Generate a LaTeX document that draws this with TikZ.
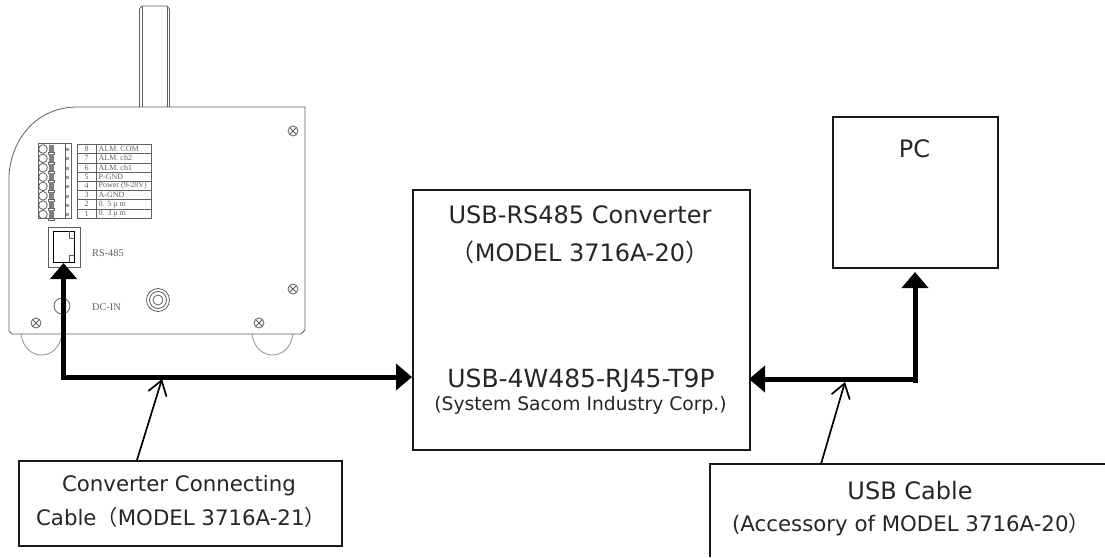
\documentclass[tikz,border=0pt]{standalone}
\usepackage{fontspec}
\setmainfont{DejaVu Sans}
\newfontfamily\cjk{Noto Sans CJK JP}
\newfontfamily\drawfont{Liberation Serif}
\newcommand{\fwl}{{\cjk （}}
\newcommand{\fwr}{{\cjk ）}}
\usetikzlibrary{arrows.meta}
\definecolor{dev}{HTML}{606060}
\tikzset{
 boxed/.style={draw=black!90,line width=1.6pt,inner sep=0pt,anchor=north west,align=center},
 thick arrow/.style={line width=5pt,-{Triangle[length=16pt,width=26pt]}},
 thin arrow/.style={line width=1.7pt,black,-{Straight Barb[length=14pt,width=19pt,line width=1.7pt]}},
 devline/.style={draw=dev,line width=.8pt},
 lbl/.style={text=black!85,font=\fontsize{24}{28}\selectfont,inner sep=0pt},
 mid/.style={text=black!85,font=\fontsize{21.3}{25}\selectfont,inner sep=0pt},
 tiny/.style={text=dev,font=\drawfont\fontsize{10.3}{11}\selectfont,inner sep=0pt,anchor=west},
 tabt/.style={text=dev,font=\drawfont\fontsize{8}{8}\selectfont,inner sep=0pt,anchor=west},
 screw/.pic={\draw[devline] (0,0) circle (5); \draw[devline] (-3.3,-3.3)--(3.3,3.3) (-3.3,3.3)--(3.3,-3.3);}
}
\begin{document}
\begin{tikzpicture}[x=1pt,y=-1pt]
\useasboundingbox[fill=white] (0,0) rectangle (1105,557);
% antenna
\draw[devline] (139.5,107) -- (139.5,9) -- (142,6) -- (167,6) -- (169.5,9) -- (169.5,107);
\draw[devline] (142,6) -- (142,107) (167,6) -- (167,107);
% feet
\draw[devline,draw=dev!70] (21,334) .. controls (23,348) and (32,355) .. (41.5,355) .. controls (51,355) and (60,348) .. (62,334);
\draw[devline,draw=dev!70] (252,334) .. controls (254,348) and (263,355) .. (272.5,355) .. controls (282,355) and (291,348) .. (293,334);
% body
\draw[devline] (77,107) -- (305,107) -- (305,330) -- (301,334) -- (12,334) -- (9,331) -- (9,175) .. controls (12,135) and (40,107) .. (77,107) -- cycle;
% terminal block
\draw[devline] (38,143.5) rectangle (71,218);
\foreach \i in {0,...,7}{
  \draw[devline] (43,149+9.35*\i) circle (4.3);
  \fill[dev!80] (49,145+9.35*\i) rectangle (54,154+9.35*\i);
  \draw[devline,fill=white] (48.5,152.7+9.35*\i) rectangle (54.5,154.7+9.35*\i);
  \fill[dev!60] (65.5,148+9.35*\i) rectangle (68.5,151+9.35*\i);
}
\draw[devline] (65,143.5) -- (65,218);
% table
\draw[devline] (77,144.5) rectangle (151,218);
\draw[devline] (96,144.5) -- (96,218);
\foreach \i in {1,...,7}{\draw[devline] (77,144.5+9.2*\i) -- (151,144.5+9.2*\i);}
\foreach \n/\t [count=\i from 0] in {8/{ALM. COM},7/{ALM. ch2},6/{ALM. ch1},5/{P-GND},4/{Power (9-28V)},3/{A-GND},2/{0. 5 μ m},1/{0. 3 μ m}}{
  \node[tabt] at (84.5,149+9.2*\i) {\n};
  \node[tabt] at (98.5,149+9.2*\i) {\t};
}
% jack
\node[draw=dev,line width=.9pt,minimum width=32pt,minimum height=40pt,inner sep=0pt,anchor=north west] (jackouter) at (48,227) {};
\draw[line width=.9pt] (53,231) rectangle (74,262);
\draw[devline] (69,231) -- (69,238) -- (74,238) (69,262) -- (69,255) -- (74,255);
\node[tiny] at (92,253) {RS-485};
% dc in
\draw[devline] (62,306) circle (8);
\node[tiny] at (92,307) {DC-IN};
\draw[devline] (158,300) circle (11.5) (158,300) circle (8.5) (158,300) circle (5);
\foreach \p in {(293,131),(293,289),(36,323),(259,323)}{\pic at \p {screw};}
% boxes
\node[boxed,minimum width=337pt,minimum height=260pt] (conv) at (412,189) {};
\node[boxed,minimum width=165pt,minimum height=151pt] (pc) at (832,116) {};
\node[lbl] at (914.5,149) {PC};
\node[lbl] at (580,215) {USB-RS485 Converter};
\node[lbl] at (580,252) {\fwl MODEL 3716A-20\fwr};
\node[lbl,font=\fontsize{25}{29}\selectfont] at (581,381) {USB-4W485-RJ45-T9P};
\node[mid,font=\fontsize{18.7}{22}\selectfont] at (580.5,405) {(System Sacom Industry Corp.)};
\node[boxed,minimum width=323pt,minimum height=85pt] (cable) at (18,460) {};
\node[mid] at (179,486) {Converter Connecting};
\node[mid] at (181,517) {Cable\fwl MODEL 3716A-21\fwr};
\coordinate (usbtl) at (710,464);
\coordinate (usbtr) at (1105,464);
\coordinate (usbbl) at (710,557);
\draw[line width=1.6pt,black!90] (usbbl) -- (usbtl) -- (usbtr);
\node[lbl] at (910,491) {USB Cable};
\node[mid] at (911,525) {(Accessory of MODEL 3716A-20\fwr};
% thick connectors
\coordinate (jackin) at (63.5,263);
\coordinate (lcorner) at (63.5,377);
\coordinate (convl) at (412,377);
\coordinate (convr) at (749,379);
\coordinate (rcorner) at (915,379);
\coordinate (pcin) at (915,272);
\fill (61,374.5) rectangle (66,379.5);
\draw[thick arrow] (lcorner) -- (jackin);
\draw[thick arrow] (lcorner) -- (convl);
\draw[thick arrow] (rcorner) -- (convr);
\draw[thick arrow] (rcorner) -- (pcin);
\fill (912.5,376.5) rectangle (917.5,383);
% thin connectors
\coordinate (t1) at (162,379);
\coordinate (t2) at (845,382);
\draw[thin arrow] (137,460) -- (t1);
\draw[thin arrow] (821,464) -- (t2);
\end{tikzpicture}
\end{document}
